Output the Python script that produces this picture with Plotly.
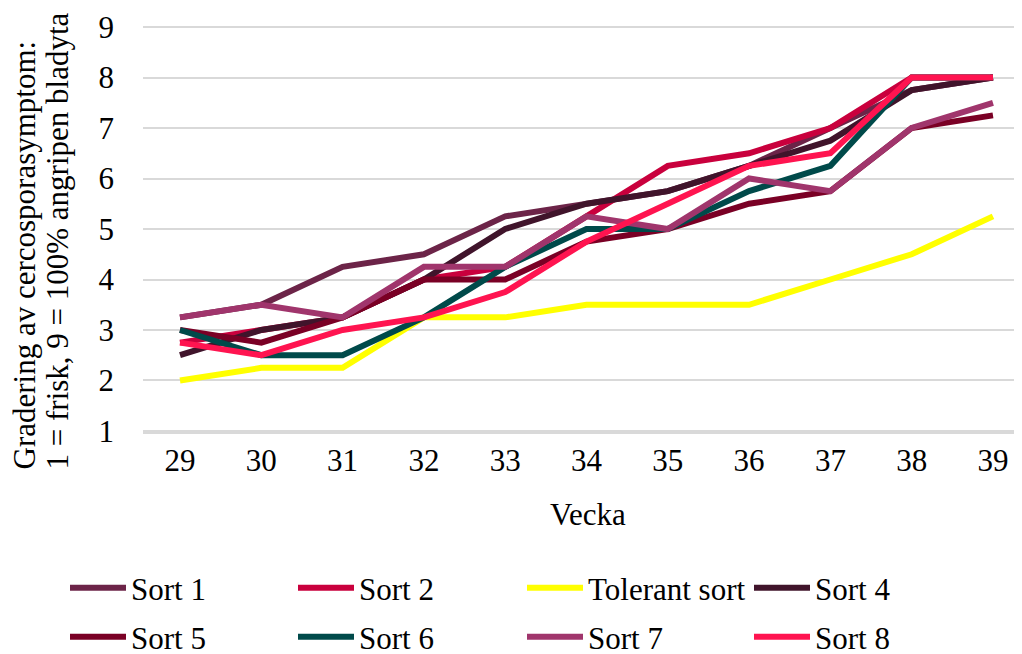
import plotly.graph_objects as go

weeks = [29, 30, 31, 32, 33, 34, 35, 36, 37, 38, 39]
series_names = ["Sort 1", "Sort 2", "Tolerant sort", "Sort 4", "Sort 5", "Sort 6", "Sort 7", "Sort 8"]
sort1 = [3.25, 3.5, 4.25, 4.5, 5.25, 5.5, 5.75, 6.25, 7.0, 7.75, 8.0]
sort2 = [2.75, 3.0, 3.25, 4.0, 4.25, 5.25, 6.25, 6.5, 7.0, 8.0, 8.0]
tolerant = [2.0, 2.25, 2.25, 3.25, 3.25, 3.5, 3.5, 3.5, 4.0, 4.5, 5.25]
sort4 = [2.5, 3.0, 3.25, 4.0, 5.0, 5.5, 5.75, 6.25, 6.75, 7.75, 8.0]
sort5 = [3.0, 2.75, 3.25, 4.0, 4.0, 4.75, 5.0, 5.5, 5.75, 7.0, 7.25]
sort6 = [3.0, 2.5, 2.5, 3.25, 4.25, 5.0, 5.0, 5.75, 6.25, 8.0, 8.0]
sort7 = [3.25, 3.5, 3.25, 4.25, 4.25, 5.25, 5.0, 6.0, 5.75, 7.0, 7.5]
sort8 = [2.75, 2.5, 3.0, 3.25, 3.75, 4.75, 5.5, 6.25, 6.5, 8.0, 8.0]
values = [sort1, sort2, tolerant, sort4, sort5, sort6, sort7, sort8]
colors = ["#6C2448", "#C9003D", "#FFFF00", "#40142B", "#7A0025", "#004A4A", "#A0356C", "#FF1450"]
y_ticks = [1, 2, 3, 4, 5, 6, 7, 8, 9]

FONT = "Liberation Serif"
FS = 31
# the page body has an 8px margin: figure is 8px smaller, all positions shifted by 8
W, H = 1014, 646
L, R, T, B = 135, 0, 18, 222
PW, PH = W - L - R, H - T - B

def px_x(px):
    return (px - L) / PW

def px_y(py):
    return (H - B - py) / PH

# legend layout: 4 columns, 2 rows (positions in figure pixels)
leg_cols = [57, 285, 514, 741]
leg_rows = [580, 629]

fig = go.Figure()
layout_legends = {}
for i, (name, vals, col) in enumerate(zip(series_names, values, colors)):
    lname = "legend" if i == 0 else f"legend{i + 1}"
    fig.add_trace(go.Scatter(
        x=weeks, y=vals, name=name, mode="lines",
        line=dict(color=col, width=6),
        legend=lname,
    ))
    layout_legends[lname] = dict(
        orientation="h", xref="container", yref="container",
        x=leg_cols[i % 4] / W, y=1 - leg_rows[i // 4] / H,
        xanchor="left", yanchor="middle",
        font=dict(family=FONT, size=FS, color="black"),
        itemwidth=56, bgcolor="rgba(0,0,0,0)",
        itemclick=False, itemdoubleclick=False,
    )

fig.update_layout(
    width=W, height=H,
    margin=dict(l=L, r=R, t=T, b=B, autoexpand=False),
    paper_bgcolor="white", plot_bgcolor="white",
    font=dict(family=FONT, size=FS, color="black"),
    showlegend=True,
    xaxis=dict(
        range=[28.545, 39.357], tickmode="array", tickvals=weeks,
        ticktext=[str(w) for w in weeks], showgrid=False, zeroline=False,
        showline=True, linecolor="#D9D9D9", linewidth=2,
        ticks="", ticklabelstandoff=0, automargin=False,
        tickfont=dict(family=FONT, size=FS, color="black"),
    ),
    yaxis=dict(
        range=[0.98, 9.02], tickmode="array", tickvals=y_ticks,
        showgrid=True, gridcolor="#D9D9D9", gridwidth=2, zeroline=False,
        ticks="", ticklabelstandoff=28, automargin=False,
        tickfont=dict(family=FONT, size=FS, color="black"),
    ),
    annotations=[
        dict(text="Gradering av cercosporasymptom:", textangle=-90,
             xref="paper", yref="paper", x=px_x(16), y=px_y(464),
             xanchor="center", yanchor="bottom", showarrow=False,
             font=dict(family=FONT, size=FS, color="black")),
        dict(text="1 = frisk, 9 = 100% angripen bladyta", textangle=-90,
             xref="paper", yref="paper", x=px_x(49), y=px_y(464),
             xanchor="center", yanchor="bottom", showarrow=False,
             font=dict(family=FONT, size=FS, color="black")),
        dict(text="Vecka", xref="paper", yref="paper",
             x=px_x(580), y=px_y(507),
             xanchor="center", yanchor="middle", showarrow=False,
             font=dict(family=FONT, size=FS, color="black")),
    ],
    **layout_legends,
)

fig.write_html("out.html")
